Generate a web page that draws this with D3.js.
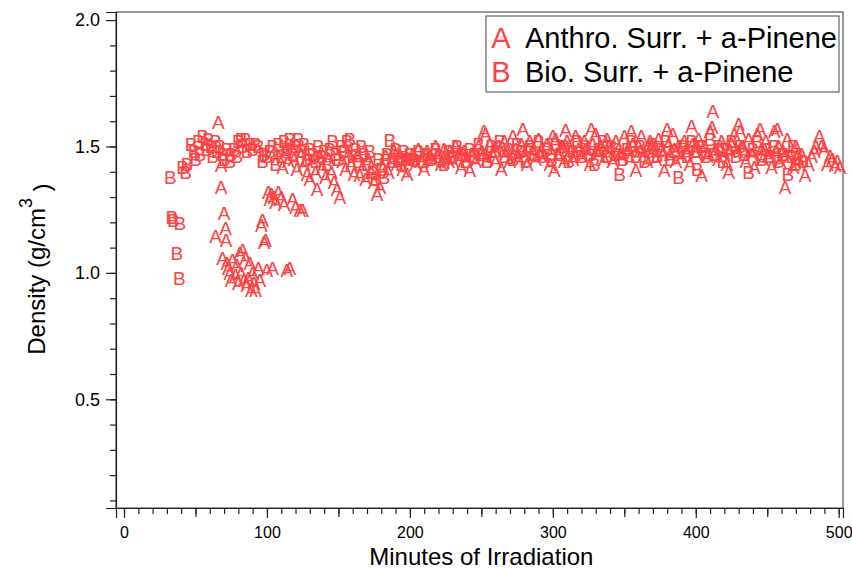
<!DOCTYPE html>
<html>
<head>
<meta charset="utf-8">
<script src="https://cdn.jsdelivr.net/npm/d3@7"></script>
<style>
  body { margin: 0; background: #fff; }
  svg text { font-family: "Liberation Sans", Arial, sans-serif; }
</style>
</head>
<body>
<svg id="chart" width="852" height="569"></svg>
<script>
'use strict';

// Anthro. Surr. + a-Pinene  (marker "A")
var timeA = [64, 66, 68, 68, 69, 70, 71, 71.5, 72, 73, 74, 75, 76, 78, 79, 80, 81, 82, 83, 84,
  85, 86, 87, 88, 89, 90, 91, 92, 94, 95, 96, 97, 98, 99, 100, 101, 102, 103, 104, 105,
  106, 108, 110, 112, 114, 116, 118, 120, 123, 125,
  108, 111, 113, 115, 117, 119, 121, 124, 126, 128, 130, 132, 134, 135, 137, 139, 141, 143, 145, 147,
  149, 151, 153, 155, 157, 159, 161, 163, 165, 167, 169, 171, 173, 175, 177, 179, 181, 183, 185, 187,
  189, 191, 193, 195, 197, 198, 200, 202, 204, 206, 208, 210, 212, 214, 216, 218, 220, 222, 224, 226,
  228, 230, 232, 234, 236, 238, 240, 242, 244, 246, 248, 250, 252, 253, 254, 256, 258, 260, 262, 264,
  266, 268, 270, 272, 274, 276, 278, 279, 280, 282, 284, 286, 288, 290, 292, 294, 296, 298, 300, 301,
  302, 304, 306, 308, 309, 310, 312, 314, 316, 318, 320, 322, 324, 326, 327, 328, 330, 332, 334, 336,
  338, 340, 342, 344, 346, 348, 350, 352, 354, 355, 356, 358, 360, 362, 364, 366, 368, 370, 372, 374,
  376, 378, 380, 381, 382, 384, 386, 388, 390, 392, 394, 396, 397, 398, 400, 402, 404, 406, 408, 410,
  411.5, 412, 414, 416, 418, 420, 422, 423, 425, 427, 429, 430, 431, 433, 435, 437, 439, 441, 443, 445,
  446, 447, 449, 451, 453, 455, 457, 458, 459, 461, 462.5, 464, 466, 468, 470, 472, 474, 476.5, 479, 481,
  483, 484, 486.5, 488, 490, 492, 494, 495.5, 497.5, 499, 501,
  203, 211, 219, 227, 235, 243, 251, 259, 267, 275, 283, 291, 299, 307, 315, 323, 331, 339, 347, 353,
  361, 369, 377, 385, 393, 401, 409, 417, 424, 432, 440, 448, 456, 463, 471];
var densityA = [1.145, 1.595, 1.425, 1.34, 1.06, 1.235, 1.175, 1.13, 1.04, 1.02, 1.00, 0.97, 1.05, 0.99, 1.03, 0.96, 1.08, 1.00, 1.09, 0.97,
  1.06, 0.95, 0.98, 1.04, 0.93, 1.00, 0.96, 0.93, 1.02, 0.97, 1.19, 1.21, 1.12, 1.13, 1.01, 1.32, 1.29, 1.31, 1.02, 1.30,
  1.28, 1.32, 1.30, 1.27, 1.01, 1.02, 1.29, 1.26, 1.25, 1.25,
  1.46, 1.42, 1.48, 1.44, 1.50, 1.45, 1.41, 1.47, 1.43, 1.39, 1.37, 1.44, 1.40, 1.33, 1.46, 1.42, 1.38, 1.45, 1.40, 1.36,
  1.33, 1.30, 1.44, 1.41, 1.47, 1.43, 1.39, 1.46, 1.385, 1.42, 1.37, 1.45, 1.40, 1.36, 1.31, 1.34, 1.42, 1.46, 1.40, 1.44,
  1.48, 1.43, 1.46, 1.41, 1.45, 1.39, 1.44, 1.47, 1.43, 1.49, 1.45, 1.41, 1.48, 1.46, 1.44, 1.50, 1.47, 1.43, 1.49, 1.45,
  1.48, 1.44, 1.50, 1.46, 1.42, 1.48, 1.45, 1.405, 1.47, 1.44, 1.50, 1.48, 1.56, 1.55, 1.45, 1.51, 1.47, 1.44, 1.50, 1.41,
  1.52, 1.48, 1.44, 1.54, 1.49, 1.45, 1.51, 1.57, 1.47, 1.43, 1.52, 1.48, 1.45, 1.53, 1.49, 1.46, 1.51, 1.43, 1.54, 1.405,
  1.53, 1.46, 1.50, 1.44, 1.565, 1.52, 1.48, 1.45, 1.54, 1.49, 1.46, 1.52, 1.48, 1.43, 1.57, 1.51, 1.55, 1.47, 1.50, 1.45,
  1.53, 1.48, 1.44, 1.52, 1.49, 1.46, 1.54, 1.48, 1.45, 1.56, 1.51, 1.405, 1.50, 1.54, 1.47, 1.44, 1.52, 1.48, 1.45, 1.53,
  1.49, 1.405, 1.57, 1.51, 1.47, 1.55, 1.44, 1.50, 1.46, 1.52, 1.48, 1.43, 1.58, 1.51, 1.47, 1.53, 1.385, 1.50, 1.46, 1.56,
  1.575, 1.64, 1.49, 1.45, 1.52, 1.47, 1.43, 1.40, 1.51, 1.55, 1.48, 1.59, 1.56, 1.50, 1.44, 1.53, 1.47, 1.42, 1.55, 1.57,
  1.49, 1.45, 1.52, 1.46, 1.42, 1.56, 1.57, 1.50, 1.44, 1.48, 1.34, 1.53, 1.46, 1.42, 1.50, 1.44, 1.47, 1.385, 1.43, 1.46,
  1.48, 1.50, 1.54, 1.50, 1.49, 1.43, 1.46, 1.45, 1.425, 1.44, 1.42,
  1.45, 1.47, 1.46, 1.44, 1.48, 1.47, 1.46, 1.49, 1.47, 1.46, 1.49, 1.47, 1.48, 1.50, 1.47, 1.49, 1.48, 1.50, 1.47, 1.49,
  1.48, 1.50, 1.47, 1.49, 1.48, 1.50, 1.47, 1.49, 1.48, 1.50, 1.47, 1.49, 1.48, 1.47, 1.46];

// Bio. Surr. + a-Pinene  (marker "B")
var timeB = [32.5, 33.5, 34.5, 37, 38.7, 39, 41, 43, 44, 47, 49, 50, 52, 53, 55, 57, 58, 59, 61, 62,
  64, 65, 67, 69, 70, 72, 74, 75, 77, 79, 80, 82, 83, 85, 86, 88, 90, 92, 94, 97,
  98, 100, 102, 104, 106, 108, 110, 112, 114, 116, 118, 120, 122, 124, 126, 128, 130, 132, 134, 136,
  138, 140, 142, 144, 146, 148, 150, 152, 154, 156, 158, 160, 162, 164, 166, 168, 170, 172, 174, 176,
  178, 180, 182, 184, 186, 188, 190, 192, 194, 196, 198, 200, 203, 206, 209, 212, 215, 218, 221, 224,
  227, 230, 233, 236, 239, 242, 245, 248, 251, 254, 257, 260, 263, 266, 269, 272, 275, 278, 281, 284,
  287, 290, 293, 296, 299, 302, 305, 308, 311, 314, 317, 320, 323, 326, 329, 332, 335, 338, 341, 344,
  346.7, 349, 352, 355, 358, 361, 364, 367, 370, 373, 376, 379, 382, 385, 388, 391, 394, 397, 400, 401,
  404, 407, 410, 413, 416, 419, 422, 425, 428, 431, 434, 437, 440, 443, 446, 449, 452, 455, 458, 461,
  464.5, 467, 468, 470, 472, 475];
var densityB = [1.38, 1.22, 1.21, 1.08, 0.98, 1.195, 1.42, 1.40, 1.43, 1.51, 1.48, 1.45, 1.52, 1.47, 1.54, 1.51, 1.49, 1.53, 1.50, 1.46,
  1.52, 1.48, 1.50, 1.47, 1.45, 1.49, 1.44, 1.47, 1.49, 1.46, 1.52, 1.53, 1.50, 1.53, 1.48, 1.51, 1.49, 1.51, 1.50, 1.44,
  1.47, 1.46, 1.48, 1.50, 1.43, 1.51, 1.46, 1.52, 1.49, 1.53, 1.47, 1.50, 1.53, 1.48, 1.51, 1.45, 1.49, 1.47, 1.44, 1.50,
  1.46, 1.48, 1.43, 1.49, 1.52, 1.47, 1.45, 1.50, 1.48, 1.52, 1.53, 1.46, 1.49, 1.44, 1.50, 1.47, 1.43, 1.48, 1.40, 1.37,
  1.45, 1.41, 1.38, 1.47, 1.525, 1.44, 1.49, 1.46, 1.43, 1.48, 1.45, 1.47, 1.45, 1.48, 1.44, 1.47, 1.45, 1.49, 1.46, 1.43,
  1.48, 1.46, 1.50, 1.47, 1.44, 1.49, 1.46, 1.51, 1.47, 1.44, 1.50, 1.48, 1.52, 1.46, 1.49, 1.45, 1.51, 1.48, 1.44, 1.50,
  1.47, 1.52, 1.46, 1.49, 1.45, 1.51, 1.47, 1.50, 1.44, 1.48, 1.52, 1.46, 1.50, 1.47, 1.43, 1.49, 1.52, 1.46, 1.50, 1.47,
  1.39, 1.45, 1.49, 1.52, 1.46, 1.50, 1.44, 1.48, 1.51, 1.46, 1.49, 1.52, 1.45, 1.48, 1.38, 1.50, 1.46, 1.52, 1.48, 1.41,
  1.50, 1.46, 1.53, 1.47, 1.50, 1.44, 1.49, 1.52, 1.46, 1.50, 1.47, 1.40, 1.49, 1.52, 1.45, 1.49, 1.46, 1.50, 1.44, 1.47,
  1.39, 1.46, 1.50, 1.43, 1.45, 1.44];

var seriesLabels = ["Anthro. Surr. + a-Pinene", "Bio. Surr. + a-Pinene"];
var seriesMarks = ["A", "B"];
var xTicks = [0, 100, 200, 300, 400, 500];
var yTicks = [0.5, 1.0, 1.5, 2.0];

var red = "#ff4242";

var svg = d3.select("#chart"),
    margin = {top: 12, right: 9, bottom: 61, left: 116},
    width = 852 - margin.left - margin.right,
    height = 569 - margin.top - margin.bottom,
    g = svg.append("g").attr("transform", "translate(" + margin.left + "," + margin.top + ")");

var x = d3.scaleLinear()
    .domain([-5.6, 503])
    .range([0, width]);
var y = d3.scaleLinear()
    .domain([0.07, 2.032])
    .range([height, 0]);

// frame
g.append("rect")
    .attr("width", width)
    .attr("height", height)
    .attr("fill", "none")
    .attr("stroke", "#555")
    .attr("stroke-width", 1.2);

// minor ticks first, then the labelled ones on top
g.append("g")
    .attr("transform", "translate(0," + height + ")")
    .call(d3.axisBottom(x).tickValues(d3.range(0, 501, 10)).tickSize(6).tickFormat(""))
    .call(function(a) { a.select(".domain").remove(); });
g.append("g")
    .attr("transform", "translate(0," + height + ")")
    .call(d3.axisBottom(x).tickValues([50, 150, 250, 350, 450]).tickSize(9).tickFormat(""))
    .call(function(a) { a.select(".domain").remove(); });
var xAxis = g.append("g")
    .attr("class", "axis axis--x")
    .attr("transform", "translate(0," + height + ")")
    .call(d3.axisBottom(x).tickValues(xTicks).tickSize(10).tickPadding(9).tickFormat(d3.format("d")));
xAxis.selectAll("text").attr("font-size", "16px").attr("fill", "#000");

g.append("g")
    .call(d3.axisLeft(y).tickValues(d3.range(1, 20).map(function(i) { return i / 10; })).tickSize(6).tickFormat(""))
    .call(function(a) { a.select(".domain").remove(); });
var yAxis = g.append("g")
    .attr("class", "axis axis--y")
    .call(d3.axisLeft(y).tickValues(yTicks).tickSize(10).tickPadding(6).tickFormat(d3.format(".1f")));
yAxis.selectAll("text").attr("font-size", "18px").attr("fill", "#000");

svg.selectAll(".tick line").attr("stroke", "#222").attr("stroke-width", 1.2);
svg.selectAll(".domain").attr("stroke", "#222").attr("stroke-width", 1.2);

// axis titles
svg.append("text")
    .attr("x", margin.left + x(250))
    .attr("y", 565)
    .attr("text-anchor", "middle")
    .attr("font-size", "24px")
    .text("Minutes of Irradiation");

var yTitle = svg.append("text")
    .attr("transform", "translate(45," + (margin.top + y(1.015)) + ") rotate(-90)")
    .attr("text-anchor", "middle")
    .attr("font-size", "24px");
yTitle.append("tspan").text("Density (g/cm");
yTitle.append("tspan").attr("dy", "-0.75em").attr("font-size", "18px").text("3");
yTitle.append("tspan").attr("dy", "0.75em").text(" )");

// data marks, letters centred on each point
var plot = g.append("g");
var series = [
  {mark: seriesMarks[0], t: timeA, d: densityA},
  {mark: seriesMarks[1], t: timeB, d: densityB}
];
series.forEach(function(s) {
  plot.append("g")
    .selectAll("text")
    .data(s.t)
    .enter().append("text")
      .attr("x", function(d) { return x(d); })
      .attr("y", function(d, i) { return y(s.d[i]); })
      .attr("dy", "0.36em")
      .attr("text-anchor", "middle")
      .attr("font-size", "19px")
      .attr("fill", red)
      .text(s.mark);
});

// legend
var legend = svg.append("g").attr("transform", "translate(486,16)");
legend.append("rect")
    .attr("width", 353)
    .attr("height", 76)
    .attr("fill", "#fff")
    .attr("stroke", "#444")
    .attr("stroke-width", 1);
seriesLabels.forEach(function(label, i) {
  legend.append("text")
      .attr("x", 15)
      .attr("y", 32 + i * 34)
      .attr("text-anchor", "middle")
      .attr("font-size", "29px")
      .attr("fill", red)
      .text(seriesMarks[i]);
  legend.append("text")
      .attr("x", 39)
      .attr("y", 32 + i * 34)
      .attr("font-size", "29px")
      .attr("fill", "#000")
      .text(label);
});
</script>
</body>
</html>
